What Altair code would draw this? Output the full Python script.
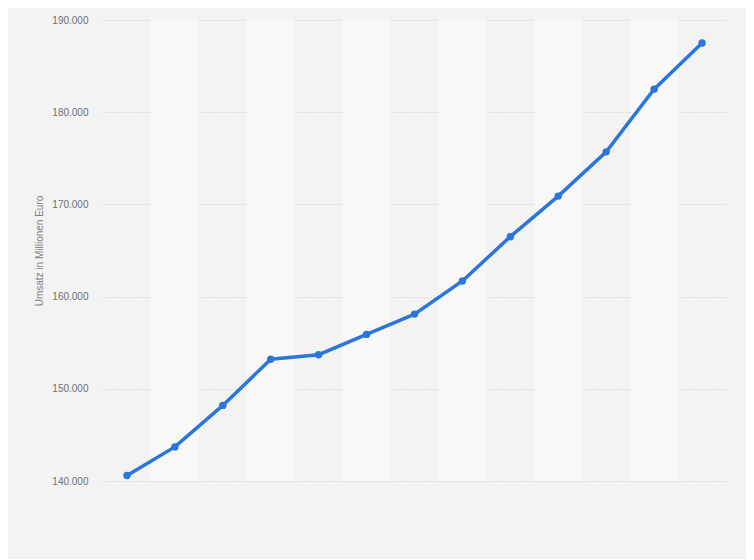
import altair as alt
import pandas as pd

# Data (13 yearly points, no x labels shown)
idx = list(range(13))
umsatz = [140600, 143700, 148200, 153200, 153700, 155900, 158100,
          161700, 166500, 170900, 175700, 182500, 187500]

df = pd.DataFrame({"i": idx, "umsatz": umsatz})
bands = pd.DataFrame({"x0": [i - 0.5 for i in idx if i % 2 == 1],
                      "x1": [i + 0.5 for i in idx if i % 2 == 1]})

W, H = 623, 461
xscale = alt.Scale(domain=[-0.5, 12.5], nice=False, zero=False)
yscale = alt.Scale(domain=[140000, 190000], nice=False, zero=False)

band_layer = alt.Chart(bands).mark_rect(color="#f8f8f8").encode(
    x=alt.X("x0:Q", scale=xscale, axis=None),
    x2="x1:Q",
    y=alt.value(0),
    y2=alt.value(H),
)

yaxis = alt.Axis(
    title="Umsatz in Millionen Euro",
    values=[140000, 150000, 160000, 170000, 180000, 190000],
    labelExpr="replace(format(datum.value, ','), ',', '.')",
    domain=False, ticks=False,
    grid=True, gridColor="#c4c4c4", gridDash=[1, 2], gridWidth=1,
    labelFont="Liberation Sans", labelFontSize=10, labelColor="#707070",
    labelPadding=15,
    titleFont="Liberation Sans", titleFontSize=10, titleColor="#808080",
    titleFontWeight="normal", titleX=-59,
)

line = alt.Chart(df).mark_line(color="#2a76dd", strokeWidth=3.5).encode(
    x=alt.X("i:Q", scale=xscale, axis=None),
    y=alt.Y("umsatz:Q", scale=yscale, axis=yaxis),
)
pts = alt.Chart(df).mark_circle(color="#2a76dd", size=55, opacity=1).encode(
    x=alt.X("i:Q", scale=xscale, axis=None),
    y=alt.Y("umsatz:Q", scale=yscale),
)

chart = alt.layer(band_layer, line, pts).properties(
    width=W, height=H,
    background="#f3f3f3",
    autosize=alt.AutoSizeParams(type="none"),
    padding={"left": 95, "top": 12, "right": 20, "bottom": 78},
).configure_view(stroke=None, fill="#f3f3f3")

chart.save("out.html", embed_options={"renderer": "svg", "actions": False})
